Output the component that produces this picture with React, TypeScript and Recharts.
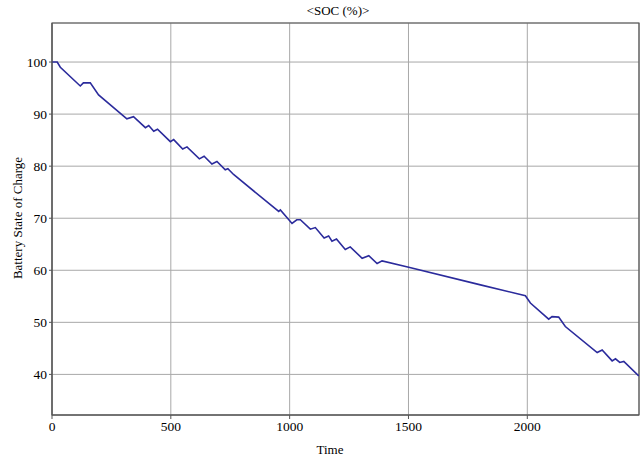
import { LineChart, Line, XAxis, YAxis, CartesianGrid, ReferenceArea, Label } from "recharts";

// Battery state of charge over the simulation run
const time = [
  0, 22, 35, 119, 132, 161, 196, 315, 343, 393, 407, 428, 444, 498, 512, 550, 568, 620, 640,
  673, 694, 729, 740, 764, 954, 961, 1010, 1030, 1045, 1087, 1108, 1145, 1164, 1178, 1197,
  1234, 1255, 1305, 1333, 1368, 1389, 1501, 1803, 1992, 2013, 2090, 2104, 2132, 2160, 2294,
  2315, 2357, 2371, 2389, 2406, 2469,
];
const soc = [
  100, 100, 99.0, 95.4, 96.0, 96.0, 93.7, 89.1, 89.5, 87.4, 87.8, 86.7, 87.1, 84.7, 85.1, 83.3,
  83.7, 81.4, 81.9, 80.4, 80.9, 79.3, 79.5, 78.4, 71.3, 71.6, 69.0, 69.7, 69.7, 67.9, 68.2,
  66.2, 66.6, 65.6, 66.0, 64.0, 64.5, 62.3, 62.8, 61.3, 61.8, 60.6, 57.2, 55.1, 53.7, 50.6,
  51.1, 51.0, 49.2, 44.2, 44.7, 42.6, 43.0, 42.3, 42.5, 39.7,
];
const xTicks = [0, 500, 1000, 1500, 2000];
const yTicks = [40, 50, 60, 70, 80, 90, 100];

const X_MAX = 2470;
const Y_MIN = 32.2;
const Y_MAX = 107.5;

const data = time.map((t, i) => ({ time: t, soc: soc[i] }));

const font = '"Liberation Serif", "Times New Roman", serif';
const tickStyle = { fontFamily: font, fontSize: 13.5, fill: "#000" };

export default function App() {
  return (
    <div style={{ position: "absolute", left: 0, top: 0, width: 644, height: 460, background: "#fff" }}>
      <div
        style={{
          position: "absolute",
          left: 0,
          top: 3,
          width: 676,
          textAlign: "center",
          fontFamily: font,
          fontSize: 13,
          color: "#000",
        }}
      >
        {"<SOC (%)>"}
      </div>
      <LineChart width={644} height={460} data={data} margin={{ top: 23, right: 5, bottom: 0, left: 0 }}>
        <CartesianGrid stroke="#a8a8a8" strokeWidth={1} />
        <XAxis
          type="number"
          dataKey="time"
          domain={[0, X_MAX]}
          ticks={xTicks}
          allowDataOverflow
          height={45}
          tick={tickStyle}
          tickSize={4}
          tickMargin={2}
          stroke="#555"
        >
          <Label
            content={() => (
              <text x={330} y={454} textAnchor="middle" style={{ fontFamily: font, fontSize: 13, fill: "#000" }}>
                Time
              </text>
            )}
          />
        </XAxis>
        <YAxis
          type="number"
          domain={[Y_MIN, Y_MAX]}
          ticks={yTicks}
          allowDataOverflow
          width={52}
          tick={tickStyle}
          tickSize={3}
          tickMargin={2}
          stroke="#555"
        >
          <Label
            content={() => (
              <text
                x={22}
                y={218}
                textAnchor="middle"
                transform="rotate(-90 22 218)"
                style={{ fontFamily: font, fontSize: 13, fill: "#000" }}
              >
                Battery State of Charge
              </text>
            )}
          />
        </YAxis>
        <ReferenceArea x1={0} x2={X_MAX} y1={Y_MIN} y2={Y_MAX} fill="none" stroke="#555" strokeWidth={1.2} />
        <Line
          type="linear"
          dataKey="soc"
          stroke="#2b2b9c"
          strokeWidth={1.6}
          dot={false}
          isAnimationActive={false}
        />
      </LineChart>
    </div>
  );
}
